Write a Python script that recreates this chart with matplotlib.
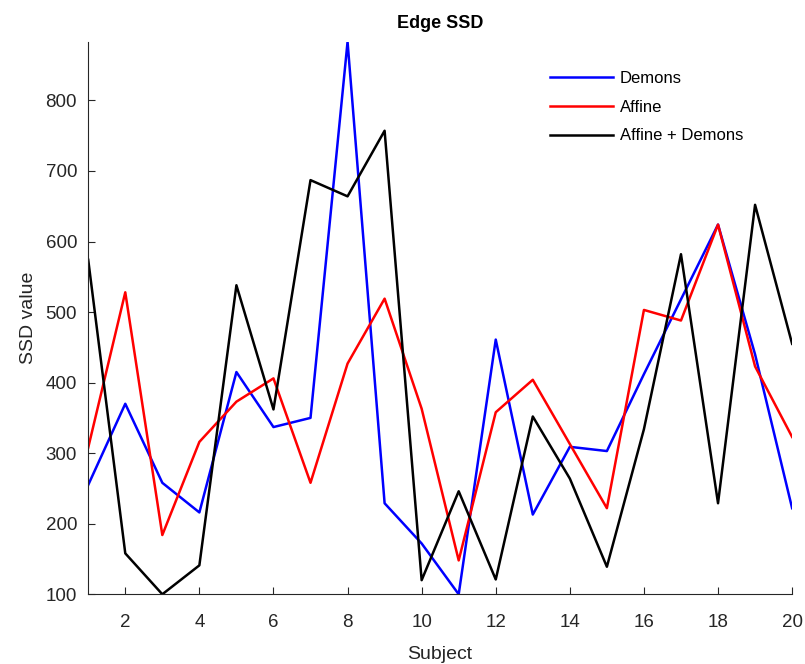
import matplotlib
matplotlib.use("Agg")
import matplotlib.pyplot as plt

subjects = list(range(1, 21))
demons = [255, 370, 258, 216, 415, 337, 350, 883, 229, 172,
          100, 461, 213, 309, 303, 412, 518, 624, 440, 222]
affine = [308, 528, 184, 316, 373, 406, 258, 427, 519, 363,
          148, 358, 404, 313, 222, 503, 488, 624, 423, 323]
affine_demons = [574, 158, 100, 141, 538, 362, 687, 664, 757, 120,
                 246, 121, 352, 264, 139, 334, 582, 229, 652, 455]

labels = ["Demons", "Affine", "Affine + Demons"]
colors = ["#0000ff", "#ff0000", "#000000"]
xticks = [2, 4, 6, 8, 10, 12, 14, 16, 18, 20]
yticks = [100, 200, 300, 400, 500, 600, 700, 800]

plt.rcParams["font.family"] = ["Liberation Sans", "DejaVu Sans"]
axis_grey = "#262626"

fig = plt.figure(figsize=(8.05, 6.64), dpi=100)
ax = fig.add_axes([0.1096, 0.105, 0.8744, 0.832])

for series, lab, c in zip([demons, affine, affine_demons], labels, colors):
    ax.plot(subjects, series, color=c, linewidth=1.8, label=lab)

allvals = demons + affine + affine_demons
ax.set_xlim(1, 20)
ax.set_ylim(min(allvals), max(allvals))
ax.set_xticks(xticks)
ax.set_yticks(yticks)

for side in ["top", "right"]:
    ax.spines[side].set_visible(False)
for side in ["left", "bottom"]:
    ax.spines[side].set_color(axis_grey)
    ax.spines[side].set_linewidth(0.8)
ax.tick_params(direction="in", length=5, width=0.8, colors=axis_grey,
               labelsize=13.5)
ax.tick_params(axis="x", pad=14)
ax.tick_params(axis="y", pad=8)

ax.set_xlabel("Subject", fontsize=14, color=axis_grey, labelpad=11)
ax.set_ylabel("SSD value", fontsize=14, color=axis_grey, labelpad=6)
ax.set_title("Edge SSD", fontsize=13, fontweight="bold", pad=10)

ax.legend(loc="upper left", bbox_to_anchor=(550 / 805, 1 - 71 / 664),
          bbox_transform=fig.transFigure, frameon=False, borderpad=0,
          borderaxespad=0, fontsize=12, handlelength=3.8,
          handletextpad=0.4, labelspacing=0.82)

fig.savefig("out.png", dpi=100)
